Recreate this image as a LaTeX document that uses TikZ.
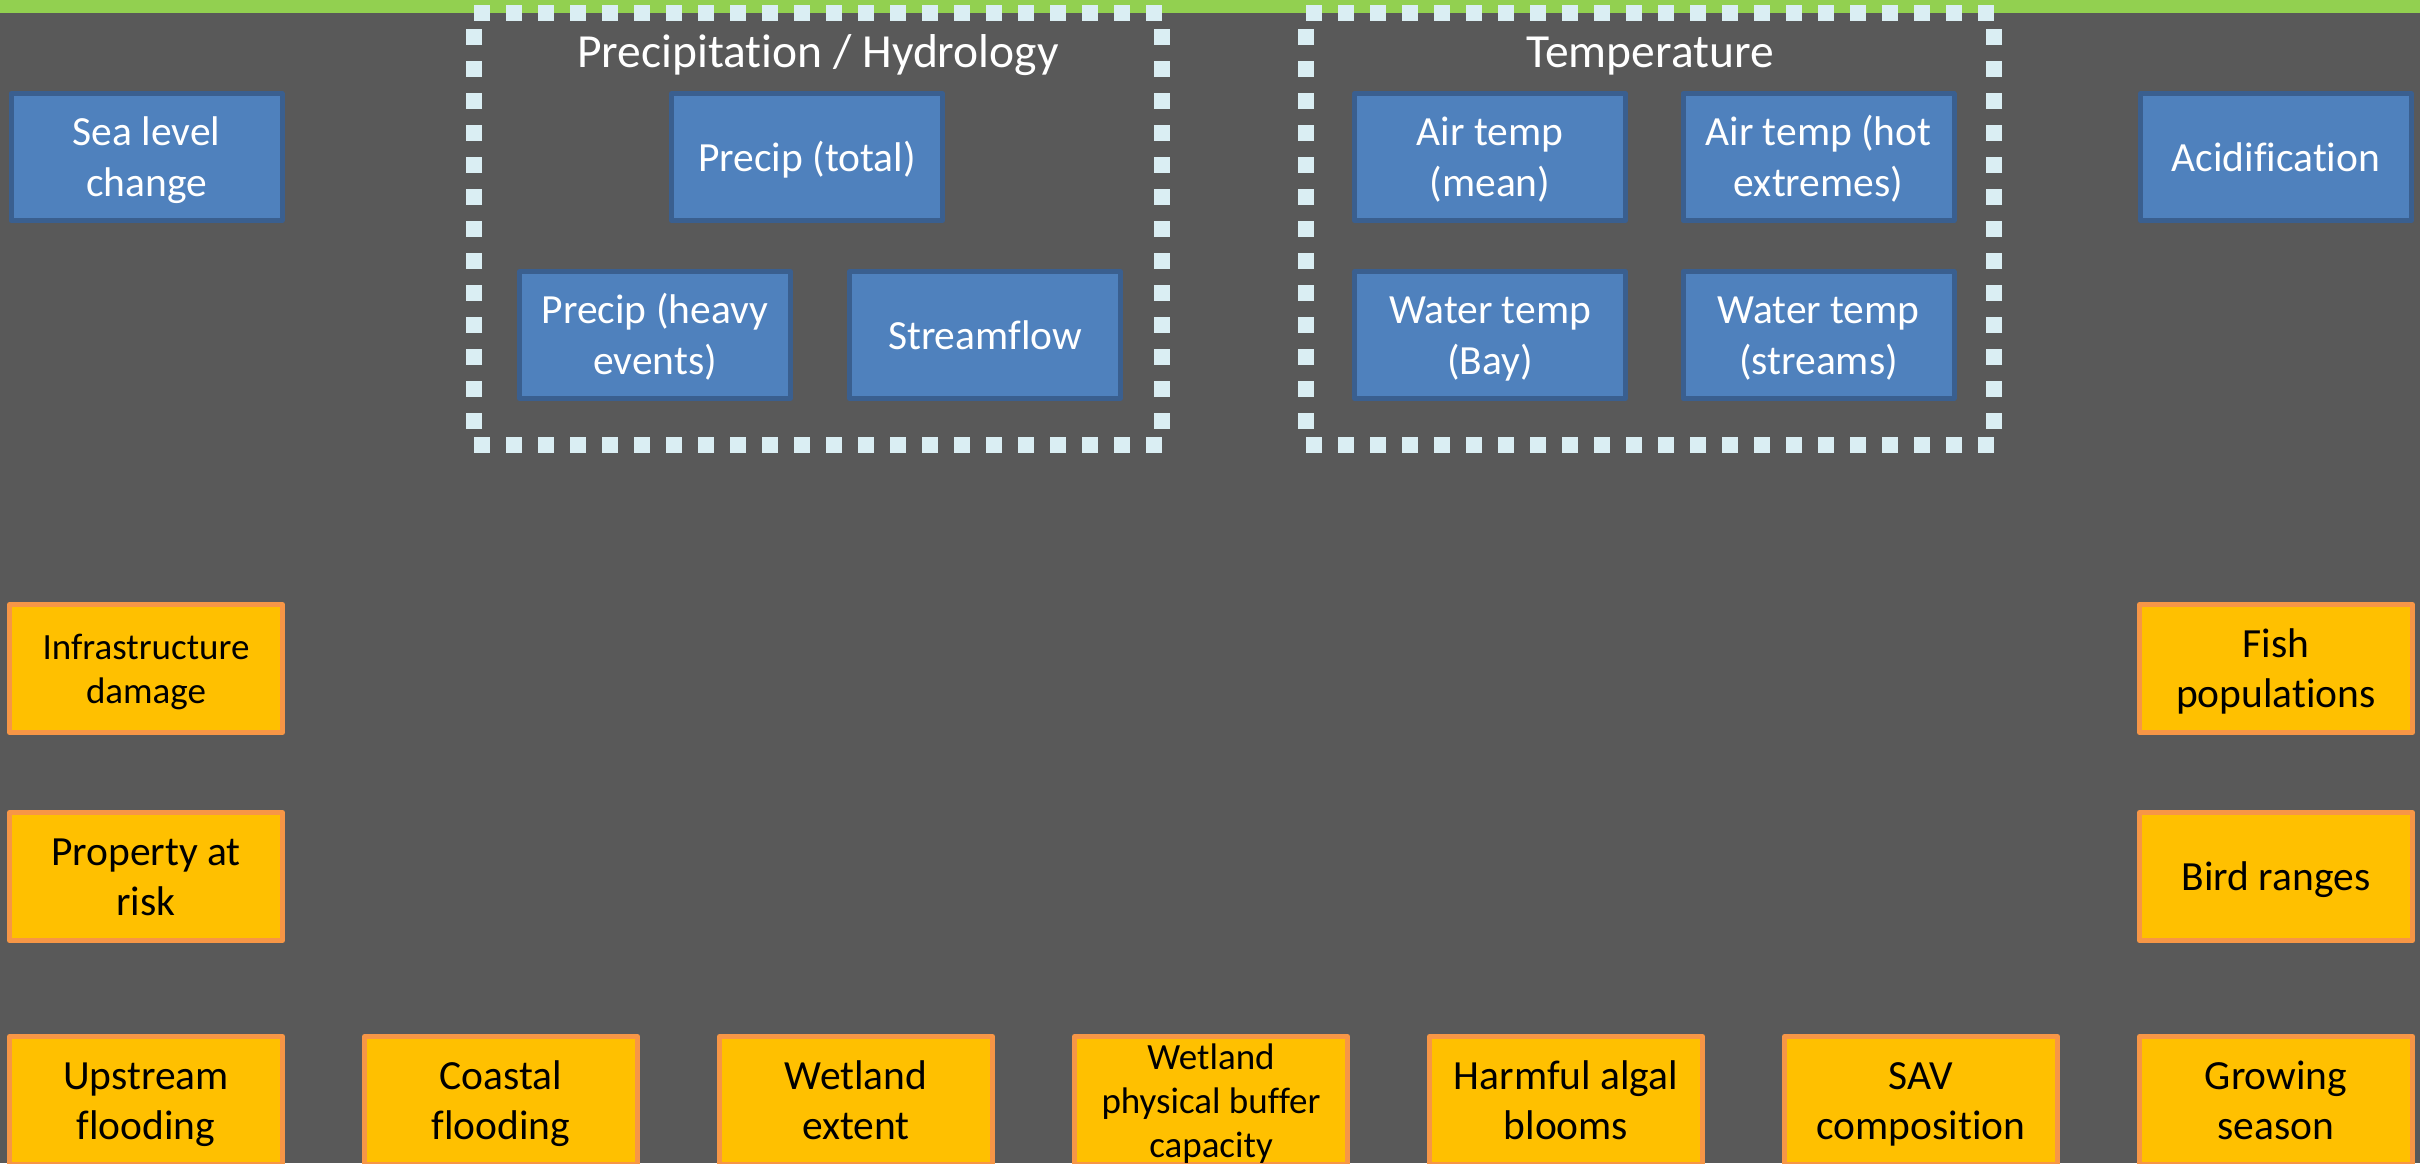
\documentclass[tikz,border=0pt]{standalone}
\usepackage{fontspec}
\setmainfont{Carlito}[Ligatures={NoCommon}]
\definecolor{bg}{HTML}{595959}
\definecolor{bar}{HTML}{92D050}
\definecolor{bfill}{HTML}{4F81BD}
\definecolor{bline}{HTML}{3A5F8F}
\definecolor{ofill}{HTML}{FFC000}
\definecolor{oline}{HTML}{F79646}
\definecolor{dotc}{HTML}{DAEEF3}
\newcommand{\topstrut}{\rule{0pt}{1.0em}}
\newcommand{\botstrut}{\rule[-0.32em]{0pt}{0.32em}}
\begin{document}
\begin{tikzpicture}[x=1pt,y=-1pt,
  boxbase/.style={line width=5pt, line join=round, inner sep=0pt, align=center,
    execute at begin node=\topstrut, execute at end node=\botstrut,
    font=\fontsize{41.5}{50.5}\selectfont},
  bluebox/.style={boxbase, draw=bline, fill=bfill, text=white, minimum width=271pt, minimum height=127pt},
  orangebox/.style={boxbase, draw=oline, fill=ofill, text=black, minimum width=273pt, minimum height=128pt},
  smalltext/.style={font=\fontsize{37}{44}\selectfont},
  frametitle/.style={text=white, font=\fontsize{47.5}{56}\selectfont, inner sep=0pt, anchor=base},
  dotline/.style={draw=dotc, line width=16pt, dash pattern=on 16pt off 16pt}
]
\useasboundingbox (0,0) rectangle (2420,1163);
\fill[bg] (0,0) rectangle (2420,1163);
\fill[bar] (0,0) rectangle (2420,12.7);

% group frames
\draw[dotline] (474,13) -- (1162,13);
\draw[dotline] (474,445) -- (1162,445);
\draw[dotline] (474,29) -- (474,445);
\draw[dotline] (1162,29) -- (1162,445);
\draw[dotline] (1306,13) -- (1994,13);
\draw[dotline] (1306,445) -- (1994,445);
\draw[dotline] (1306,29) -- (1306,445);
\draw[dotline] (1994,29) -- (1994,445);

\node[frametitle] (tprecip) at (818,67) {Precipitation / Hydrology};
\node[frametitle] (ttemp) at (1650,67) {Temperature};

% blue drivers
\node[bluebox] (sea) at (146.5,157) {\topstrut Sea level\\change};
\node[bluebox] (ptotal) at (807,157) {Precip (total)};
\node[bluebox] (pheavy) at (655,335) {\topstrut Precip (heavy\\events)};
\node[bluebox] (stream) at (985,335) {Streamflow};
\node[bluebox] (airmean) at (1490,157) {\topstrut Air temp\\(mean)};
\node[bluebox] (airhot) at (1818.5,157) {\topstrut Air temp (hot\\extremes)};
\node[bluebox] (wbay) at (1490,335) {\topstrut Water temp\\(Bay)};
\node[bluebox] (wstream) at (1818.5,335) {\topstrut Water temp\\(streams)};
\node[bluebox] (acid) at (2276,157) {Acidification};

% orange impacts
\node[orangebox,smalltext] (infra) at (146,668.5) {\topstrut Infrastructure\\damage};
\node[orangebox] (prop) at (146,876.5) {\topstrut Property at\\risk};
\node[orangebox] (fish) at (2276,668.5) {\topstrut Fish\\populations};
\node[orangebox] (bird) at (2276,876.5) {Bird ranges};
\node[orangebox] (upflood) at (146,1100.5) {\topstrut Upstream\\flooding};
\node[orangebox] (coflood) at (501,1100.5) {\topstrut Coastal\\flooding};
\node[orangebox] (wext) at (856,1100.5) {\topstrut Wetland\\extent};
\node[orangebox,smalltext,inner ysep=-5pt] (wbuf) at (1211,1100.5) {\topstrut Wetland\\physical buffer\\capacity};
\node[orangebox] (hab) at (1566,1100.5) {\topstrut Harmful algal\\blooms};
\node[orangebox] (sav) at (1921,1100.5) {\topstrut SAV\\composition};
\node[orangebox] (grow) at (2276,1100.5) {\topstrut Growing\\season};
\end{tikzpicture}
\end{document}
